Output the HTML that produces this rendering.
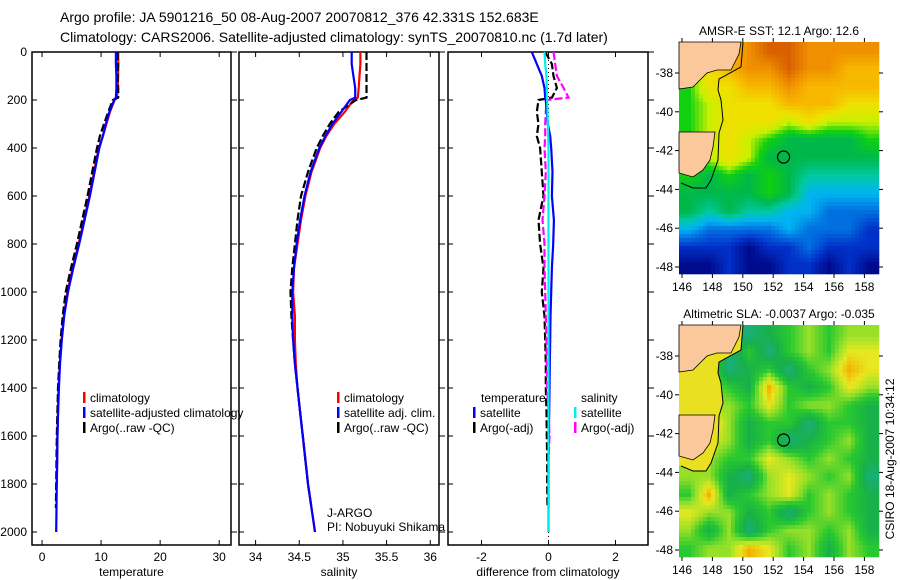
<!DOCTYPE html>
<html><head><meta charset="utf-8"><style>
html,body{margin:0;padding:0;background:#fff;}
svg{display:block;font-family:"Liberation Sans",sans-serif;}
</style></head><body>
<svg id="fig" width="900" height="580" viewBox="0 0 900 580">
<text x="60" y="22" font-size="14">Argo profile: JA 5901216_50 08-Aug-2007 20070812_376 42.331S 152.683E</text>
<text x="60" y="42" font-size="14">Climatology: CARS2006. Satellite-adjusted climatology: synTS_20070810.nc (1.7d later)</text>
<g id="plots"></g>
<g id="maps"></g>
</svg>
<script>
const depths=[0,50,100,150,190,200,250,300,350,400,500,600,700,800,900,1000,1100,1200,1300,1400,1500,1600,1700,1800,1900,2000];
const tempClim=[12.9,12.9,12.9,12.8,12.7,12.3,11.5,10.9,10.3,9.6,8.8,8.0,7.1,6.2,5.2,4.3,3.7,3.3,3.0,2.8,2.7,2.6,2.55,2.5,2.45,2.4];
const tempSat=[12.5,12.5,12.6,12.6,12.5,12.2,11.4,10.8,10.3,9.7,8.9,8.1,7.2,6.3,5.3,4.4,3.75,3.35,3.05,2.85,2.72,2.62,2.56,2.5,2.45,2.4];
const tempArgo=[12.8,12.9,12.8,12.9,12.9,12.0,11.2,10.5,9.8,9.3,8.5,7.7,6.8,5.9,4.9,4.0,3.5,3.15,2.9,2.7,2.6,2.5,2.45,2.4,2.35,null];
const salClim=[35.2,35.2,35.19,35.18,35.17,35.12,35.02,34.9,34.81,34.74,34.64,34.57,34.52,34.48,34.44,34.43,34.45,34.45,34.46,34.48,34.51,34.54,34.57,34.6,34.64,34.68];
const salSat=[35.1,35.1,35.12,35.14,35.14,35.08,34.98,34.88,34.8,34.73,34.63,34.56,34.51,34.47,34.44,34.42,34.42,34.43,34.45,34.48,34.51,34.54,34.57,34.6,34.64,34.68];
const salArgo=[35.27,35.27,35.27,35.27,35.27,35.15,34.95,34.85,34.77,34.7,34.6,34.52,34.48,34.45,34.42,34.4,34.41,34.43,34.45,34.48,34.51,34.54,34.57,34.6,34.64,null];
const dTempSat=[-0.5,-0.35,-0.2,-0.12,-0.1,-0.08,-0.05,-0.02,0.05,0.08,0.12,0.1,0.16,0.14,0.1,0.08,0.06,0.05,0.04,0.03,0.02,0.01,0.0,0.0,0.0,0.0];
const dSalSat=[-0.12,-0.1,-0.06,-0.05,-0.05,-0.04,-0.03,-0.02,-0.01,0,0,0,0,0,0,0,0,0,0,0,0,0,0,0,0,0];
const dTempArgo=[-0.1,0.1,0.15,0.25,0.1,-0.3,-0.35,-0.3,-0.35,-0.25,-0.2,-0.15,-0.3,-0.25,-0.15,-0.2,-0.12,-0.1,-0.08,-0.08,-0.06,-0.05,-0.04,-0.04,-0.03,null];
const dSalArgo=[0.15,0.2,0.25,0.45,0.6,-0.05,-0.08,-0.1,-0.1,-0.12,-0.08,-0.12,-0.18,-0.12,-0.12,-0.1,-0.08,-0.06,-0.05,-0.04,0,0.03,0,0,0,null];
const depthTicks=[0,200,400,600,800,1000,1200,1400,1600,1800,2000];
const tempTicks=[0,10,20,30];
const salTicks=[34,34.5,35,35.5,36];
const diffTicks=[-2,0,2];

const NS="http://www.w3.org/2000/svg";
function mk(tag,attrs,parent){const e=document.createElementNS(NS,tag);for(const k in attrs)e.setAttribute(k,attrs[k]);parent.appendChild(e);return e;}
const plots=document.getElementById('plots');
const yScale=d=>52+d*0.24;
const panels=[
 {x0:32,x1:231,vmin:-1.7,vmax:32,ticks:tempTicks,label:'temperature',name:'temperature-panel'},
 {x0:239,x1:439,vmin:33.81,vmax:36.1,ticks:salTicks,label:'salinity',name:'salinity-panel'},
 {x0:448,x1:648,vmin:-3.0,vmax:2.97,ticks:diffTicks,label:'difference from climatology',name:'difference-panel'}
];
panels.forEach((p,pi)=>{
 p.sx=v=>p.x0+(v-p.vmin)/(p.vmax-p.vmin)*(p.x1-p.x0);
 const g=mk('g',{},plots);
 
 
 const r=mk('rect',{x:p.x0,y:52,width:p.x1-p.x0,height:493,fill:'#fff',stroke:'#000','stroke-width':1.5},g);
 
 
 p.ticks.forEach(t=>{const x=p.sx(t);
  mk('line',{x1:x,x2:x,y1:52,y2:57,stroke:'#000'},g);mk('line',{x1:x,x2:x,y1:545,y2:540,stroke:'#000'},g);
  const tx=mk('text',{x:x,y:561,'font-size':12,'text-anchor':'middle'},g);tx.textContent=t;
  
  });
 depthTicks.forEach(d=>{const y=yScale(d);
  mk('line',{x1:p.x0,x2:p.x0+5,y1:y,y2:y,stroke:'#000'},g);mk('line',{x1:p.x1,x2:p.x1+6,y1:y,y2:y,stroke:'#000'},g);
  if(pi==0){const tx=mk('text',{x:27,y:y+4,'font-size':12,'text-anchor':'end'},g);tx.textContent=d;
  
  }});
 const lb=mk('text',{x:(p.x0+p.x1)/2,y:576,'font-size':12,'text-anchor':'middle'},g);lb.textContent=p.label;
 
 
});
function series(p,vals,color,dash,name,maxD){
 let d='';let started=false;
 vals.forEach((v,i)=>{if(v===null||depths[i]>maxD)return;d+=(started?'L':'M')+p.sx(v).toFixed(1)+','+yScale(depths[i]).toFixed(1);started=true;});
 const e=mk('path',{d:d,fill:'none',stroke:color,'stroke-width':2.2},plots);
 if(dash)e.setAttribute('stroke-dasharray',dash);
 
 
}
const [P1,P2,P3]=panels;
series(P1,tempClim,'#f00',null,'temperature-climatology-line',1800);
series(P1,tempArgo,'#000','8,3','temperature-argo-line',2000);
series(P1,tempSat,'#00f',null,'temperature-satellite-line',2000);
series(P2,salClim,'#f00',null,'salinity-climatology-line',2000);
series(P2,salArgo,'#000','8,3','salinity-argo-line',2000);
series(P2,salSat,'#00f',null,'salinity-satellite-line',2000);
const zl=mk('line',{x1:P3.sx(0),x2:P3.sx(0),y1:52,y2:545,stroke:'#000','stroke-dasharray':'1,3'},plots);


series(P3,dTempArgo,'#000','8,3','diff-temp-argo-line',2000);
series(P3,dSalArgo,'#f0f','8,3','diff-sal-argo-line',2000);
series(P3,dTempSat,'#00f',null,'diff-temp-satellite-line',2000);
series(P3,dSalSat,'#0ee',null,'diff-sal-satellite-line',2000);

function legend(x,y,color,txt){
 const g=mk('g',{},plots);
 
 
 mk('rect',{x:x,y:y-9,width:2.5,height:11,fill:color},g);
 const t=mk('text',{x:x+7,y:y+1,'font-size':12},g);t.textContent=txt;
}
legend(83,401,'#f00','climatology');legend(83,416,'#00f','satellite-adjusted climatology');legend(83,431,'#000','Argo(..raw -QC)');
legend(337,401,'#f00','climatology');legend(337,416,'#00f','satellite adj. clim.');legend(337,431,'#000','Argo(..raw -QC)');
{const t=mk('text',{x:481,y:402,'font-size':12},plots);t.textContent='temperature';
 
 const s=mk('text',{x:581,y:402,'font-size':12},plots);s.textContent='salinity';
 }
legend(473,416,'#00f','satellite');legend(473,431,'#000','Argo(-adj)');
legend(574,416,'#0ee','satellite');legend(574,431,'#f0f','Argo(-adj)');
{const a=mk('text',{x:327,y:517,'font-size':12},plots);a.textContent='J-ARGO';
 
 const b=mk('text',{x:327,y:531,'font-size':12},plots);b.textContent='PI: Nobuyuki Shikama';
 }

// maps
const maps=document.getElementById('maps');
const sstPal=[[0,10,140],[0,48,200],[0,112,224],[0,180,240],[0,200,160],[0,184,74],[16,208,16],[200,240,0],[240,224,0],[248,184,0],[240,144,0],[216,96,0]];
const sstGrid=[[6,8,9,10,11,11,10,10,10,10],[6,8,9,10,10,11,10,10,9,9],[6,8,8,9,9,10,9,9,9,9],[6,7,8,8,8,9,9,9,8,8],[6,7,8,8,8,7,8,7,7,7],[6,7,8,7,6,5,5,5,5,6],[6,7,8,7,5,5,5,5,5,5],[6,5,6,5,6,5,4,4,4,4],[5,5,5,5,6,5,3,3,3,3],[5,4,5,4,4,3,3,2,2,2],[3,2,2,2,2,3,2,2,2,1],[1,1,1,0,1,1,2,1,1,1],[0,0,1,0,0,1,1,0,1,0]];
const slaPal=[[24,176,120],[24,176,72],[40,200,48],[150,224,40],[232,232,32],[240,176,0]];
const slaGrid=[[4,4,0,0,1,2,3,2,3,3],[4,3,0,2,0,2,3,2,4,4],[4,3,0,1,2,0,2,3,5,4],[4,3,2,1,5,2,1,2,4,3],[3,3,3,2,4,2,3,3,2,1],[3,5,3,1,2,2,0,2,2,1],[3,4,3,1,2,0,1,2,3,1],[3,3,2,2,4,3,2,3,2,1],[3,3,1,0,3,4,3,2,3,0],[2,5,1,2,3,4,2,3,2,1],[4,3,3,1,2,0,2,3,2,1],[3,1,3,0,2,3,3,2,3,1],[2,3,3,5,4,2,3,1,3,2]];
const lonTicks=[146,148,150,152,154,156,158];
const latTicks=[-38,-40,-42,-44,-46,-48];
const vic="0,0 62,0 60,12 52,28 38,28 28,31 14,45 0,47";
const tas="0,90 36,90 34,105 31,118 24,128 14,135 0,131";
const contour="64,0 62,25 40,37 39,48 42,58 44,78 40,91 39,118 32,138 27,146 14,146 2,141";
function palColor(pal,v){v=Math.max(0,Math.min(pal.length-1,v));const i=Math.min(pal.length-2,Math.floor(v)),f=v-i;
 const c=pal[i].map((a,k)=>Math.round(a+(pal[i+1][k]-a)*f));return `rgb(${c[0]},${c[1]},${c[2]})`;}
function sample(grid,gx,gy){const R=grid.length,C=grid[0].length;
 gx=Math.max(0,Math.min(C-1,gx));gy=Math.max(0,Math.min(R-1,gy));
 const x0=Math.min(C-2,Math.floor(gx)),y0=Math.min(R-2,Math.floor(gy)),fx=gx-x0,fy=gy-y0;
 return grid[y0][x0]*(1-fx)*(1-fy)+grid[y0][x0+1]*fx*(1-fy)+grid[y0+1][x0]*(1-fx)*fy+grid[y0+1][x0+1]*fx*fy;}
function drawMap(top,title,grid,pal,name,shelf){
 const X=679,W=200,H=232,cs=4;
 const g=mk('g',{},maps);
 
 
 const C=grid[0].length,R=grid.length;
 for(let y=0;y<H;y+=cs)for(let x=0;x<W;x+=cs){
  const v=sample(grid,(x+cs/2)/W*C-0.5,(y+cs/2)/H*R-0.5);
  mk('rect',{x:X+x,y:top+y,width:Math.min(cs,W-x)+0.3,height:Math.min(cs,H-y)+0.3,fill:palColor(pal,v)},g);}
 const inner=mk('g',{transform:`translate(${X},${top})`},g);
 if(shelf){mk('polygon',{points:contour+" 0,141 0,0",fill:shelf},inner);}
 mk('polygon',{points:vic,fill:'#fac89a',stroke:'#000','stroke-width':0.8},inner);
 mk('polygon',{points:tas,fill:'#fac89a',stroke:'#000','stroke-width':0.8},inner);
 mk('polyline',{points:contour,fill:'none',stroke:'#000','stroke-width':1},inner);
 const cx=X+(152.683-146)*15.2+3, cy=top+31+4.331*19.4;
 const circ=mk('circle',{cx:cx,cy:cy,r:6,fill:'none',stroke:'#000','stroke-width':1.2},g);
 
 
 lonTicks.forEach(l=>{const x=682+(l-146)*15.2;mk('line',{x1:x,x2:x,y1:top,y2:top-4,stroke:'#000'},g);mk('line',{x1:x,x2:x,y1:top+H,y2:top+H+4,stroke:'#000'},g);
  const t=mk('text',{x:x,y:top+H+17,'font-size':12,'text-anchor':'middle'},g);t.textContent=l;
  });
 latTicks.forEach(l=>{const y=top+31+(-38-l)*19.4;mk('line',{x1:X,x2:X-4,y1:y,y2:y,stroke:'#000'},g);mk('line',{x1:X+W,x2:X+W+4,y1:y,y2:y,stroke:'#000'},g);
  const t=mk('text',{x:673,y:y+4,'font-size':12,'text-anchor':'end'},g);t.textContent=l;
  });
 const tt=mk('text',{x:779,y:top-7,'font-size':12,'text-anchor':'middle'},g);tt.textContent=title;
 
}
drawMap(42,'AMSR-E SST: 12.1 Argo: 12.6',sstGrid,sstPal,'sst-map',null);
drawMap(325,'Altimetric SLA: -0.0037 Argo: -0.035',slaGrid,slaPal,'sla-map','#e8e020');
{const t=mk('text',{x:0,y:0,'font-size':12,'text-anchor':'middle',transform:'translate(894,459) rotate(-90)'},maps);t.textContent='CSIRO 18-Aug-2007 10:34:12';
 }
</script>
</body></html>
